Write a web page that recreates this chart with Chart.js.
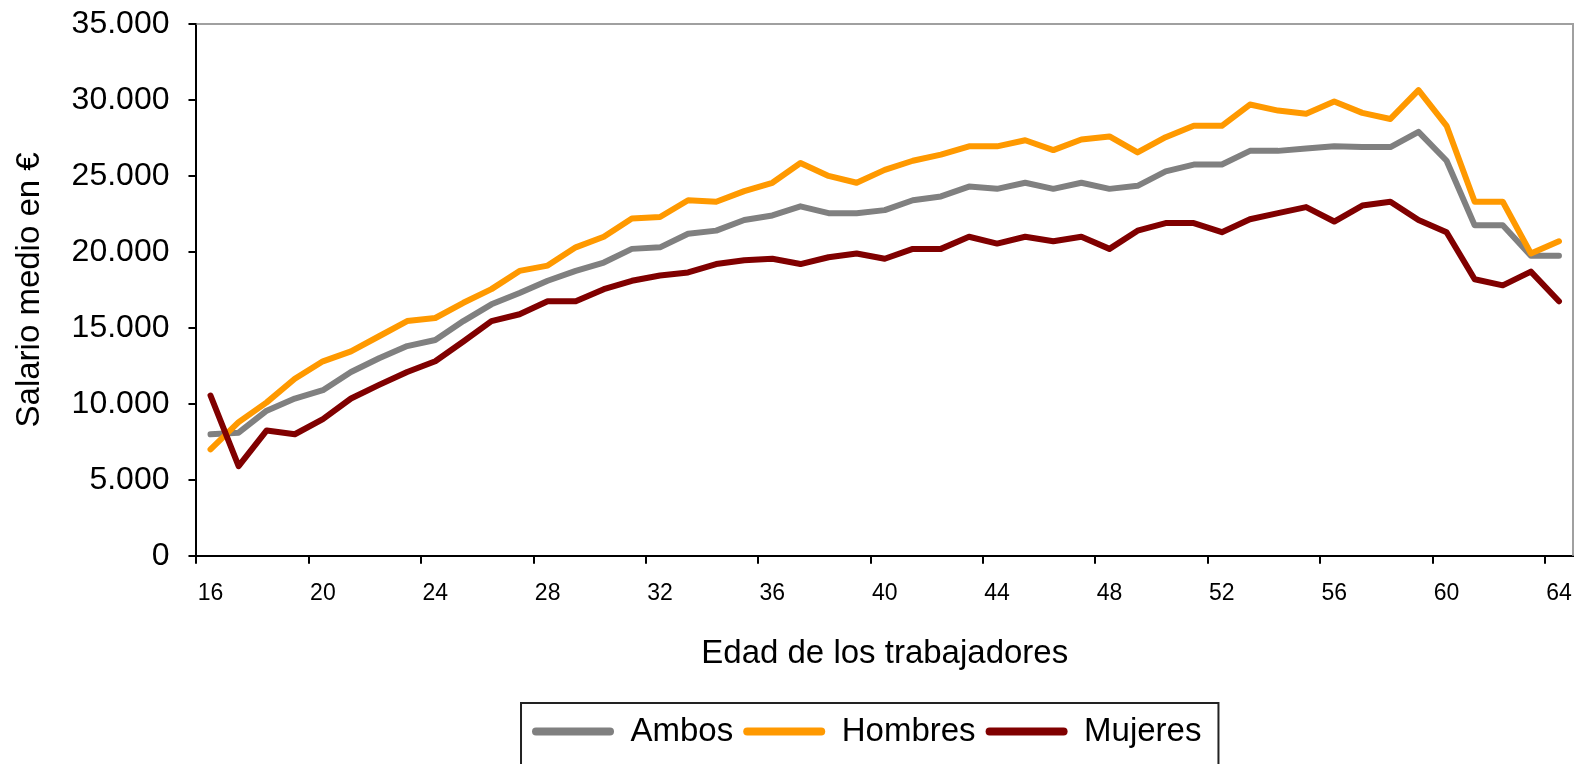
<!DOCTYPE html>
<html lang="es">
<head>
<meta charset="utf-8">
<title>Salario medio por edad</title>
<script src="https://cdn.jsdelivr.net/npm/chart.js@4.4.0/dist/chart.umd.min.js"></script>
<style>
  html, body { margin: 0; padding: 0; background: #fff; }
  #wrap { position: relative; width: 1583px; height: 764px; }
</style>
</head>
<body>
<div id="wrap"><canvas id="salaryChart"></canvas></div>
<script>
// Edad de los trabajadores (categorias)
var edades = ['16', '17', '18', '19', '20', '21', '22', '23', '24', '25',
              '26', '27', '28', '29', '30', '31', '32', '33', '34', '35',
              '36', '37', '38', '39', '40', '41', '42', '43', '44', '45',
              '46', '47', '48', '49', '50', '51', '52', '53', '54', '55',
              '56', '57', '58', '59', '60', '61', '62', '63', '64'];

// Salario medio en euros
var ambos = [8000, 8100, 9550, 10350, 10900, 12100, 13000, 13800, 14200, 15450,
             16550, 17300, 18100, 18750, 19300, 20200, 20300, 21200, 21400, 22100,
             22400, 23000, 22550, 22550, 22750, 23400, 23650, 24300, 24150, 24550,
             24150, 24550, 24150, 24350, 25300, 25750, 25750, 26650, 26650, 26800,
             26950, 26900, 26900, 27900, 26000, 21750, 21750, 19750, 19750];

var hombres = [7000, 8800, 10100, 11650, 12800, 13450, 14450, 15450, 15650, 16650,
               17550, 18750, 19100, 20300, 21000, 22200, 22300, 23400, 23300, 24000,
               24550, 25850, 25000, 24550, 25400, 26000, 26400, 26950, 26950, 27350,
               26700, 27400, 27600, 26550, 27550, 28300, 28300, 29700, 29300, 29100,
               29900, 29150, 28750, 30650, 28300, 23300, 23300, 19900, 20700];

var mujeres = [10550, 5900, 8250, 8000, 9000, 10350, 11250, 12100, 12800, 14100,
               15450, 15900, 16750, 16750, 17550, 18100, 18450, 18650, 19200, 19450,
               19550, 19200, 19650, 19900, 19550, 20200, 20200, 21000, 20550, 21000,
               20700, 21000, 20200, 21400, 21900, 21900, 21300, 22150, 22550, 22950,
               22000, 23050, 23300, 22100, 21300, 18200, 17800, 18700, 16750];

// Ejes
var yMax = 35000;
var yStep = 5000;
var xLabelEvery = 4;

var fontFamily = '"Liberation Sans", Arial, sans-serif';

function miles(v) {
    return String(v).replace(/\B(?=(\d{3})+(?!\d))/g, '.');
}

// Gray frame on top/right of the plot, box round the legend
var frames = {
    id: 'frames',
    afterLayout: function (chart) {
        // legend sits a bit left of the plot centre in the original
        chart.legend.left -= 18;
        chart.legend.right -= 18;
    },
    beforeDatasetsDraw: function (chart) {
        var a = chart.chartArea;
        var ctx = chart.ctx;
        ctx.save();
        ctx.strokeStyle = '#a0a0a0';
        ctx.lineWidth = 2;
        ctx.beginPath();
        ctx.moveTo(a.left, a.top);
        ctx.lineTo(a.right, a.top);
        ctx.lineTo(a.right, a.bottom);
        ctx.stroke();
        ctx.restore();
    },
    afterDraw: function (chart) {
        var boxes = chart.legend.legendHitBoxes;
        if (!boxes || !boxes.length) return;
        var first = boxes[0];
        var last = boxes[boxes.length - 1];
        var left = first.left - 11;
        var right = last.left + last.width + 17;
        var top = first.top - 12;
        var ctx = chart.ctx;
        ctx.save();
        ctx.strokeStyle = '#222';
        ctx.lineWidth = 2;
        ctx.strokeRect(left, top, right - left, chart.height - top + 10);
        ctx.restore();
    }
};

document.addEventListener('DOMContentLoaded', function () {
    var ctx = document.getElementById('salaryChart').getContext('2d');
    new Chart(ctx, {
        type: 'line',
        data: {
            labels: edades,
            datasets: [{
                label: 'Ambos',
                data: ambos,
                borderColor: '#808080',
                backgroundColor: '#808080',
                order: 3
            }, {
                label: 'Hombres',
                data: hombres,
                borderColor: '#ff9900',
                backgroundColor: '#ff9900',
                order: 2
            }, {
                label: 'Mujeres',
                data: mujeres,
                borderColor: '#800000',
                backgroundColor: '#800000',
                order: 1
            }]
        },
        options: {
            responsive: true,
            maintainAspectRatio: false,
            animation: false,
            events: [],
            layout: { padding: { top: 24, right: 10, bottom: 6, left: 0 } },
            elements: {
                line: { borderWidth: 6, tension: 0, borderCapStyle: 'round', borderJoinStyle: 'round' },
                point: { radius: 0 }
            },
            plugins: {
                tooltip: { enabled: false },
                legend: {
                    position: 'bottom',
                    fullSize: false,
                    labels: {
                        color: '#000',
                        font: { family: fontFamily, size: 33 },
                        boxWidth: 82,
                        boxHeight: 8,
                        padding: 10,
                        sort: function (a, b) { return a.datasetIndex - b.datasetIndex; },
                        generateLabels: function (chart) {
                            var items = Chart.defaults.plugins.legend.labels.generateLabels(chart);
                            items.forEach(function (it) {
                                it.fillStyle = it.strokeStyle;
                                it.lineWidth = 0;
                                it.borderRadius = 4;
                            });
                            return items;
                        }
                    }
                }
            },
            scales: {
                x: {
                    type: 'category',
                    offset: true,
                    afterFit: function (s) { s.paddingLeft = 0; s.paddingRight = 0; },
                    border: { display: true, color: '#000', width: 2 },
                    grid: {
                        display: true,
                        offset: true,
                        drawOnChartArea: false,
                        drawTicks: true,
                        tickLength: 8,
                        lineWidth: 2,
                        color: function (c) {
                            return c.index % xLabelEvery === 0 ? '#000' : 'rgba(0,0,0,0)';
                        }
                    },
                    ticks: {
                        autoSkip: false,
                        maxRotation: 0,
                        padding: 16,
                        color: '#000',
                        font: { family: fontFamily, size: 23 },
                        callback: function (val, i) {
                            return i % xLabelEvery === 0 ? edades[i] : '';
                        }
                    },
                    title: {
                        display: true,
                        text: 'Edad de los trabajadores',
                        color: '#000',
                        font: { family: fontFamily, size: 33 },
                        padding: { top: 11, bottom: 31 }
                    }
                },
                y: {
                    min: 0,
                    max: yMax,
                    afterFit: function (s) { s.paddingTop = 0; s.paddingBottom = 0; },
                    border: { display: true, color: '#000', width: 2 },
                    grid: {
                        display: true,
                        drawOnChartArea: false,
                        drawTicks: true,
                        tickLength: 8,
                        lineWidth: 2,
                        color: '#000'
                    },
                    ticks: {
                        stepSize: yStep,
                        padding: 19,
                        color: '#000',
                        font: { family: fontFamily, size: 32 },
                        callback: function (v) { return miles(v); }
                    },
                    title: {
                        display: true,
                        text: 'Salario medio en €',
                        color: '#000',
                        font: { family: fontFamily, size: 33 },
                        padding: { top: 10, bottom: 3 }
                    }
                }
            }
        },
        plugins: [frames]
    });
});
</script>
</body>
</html>
